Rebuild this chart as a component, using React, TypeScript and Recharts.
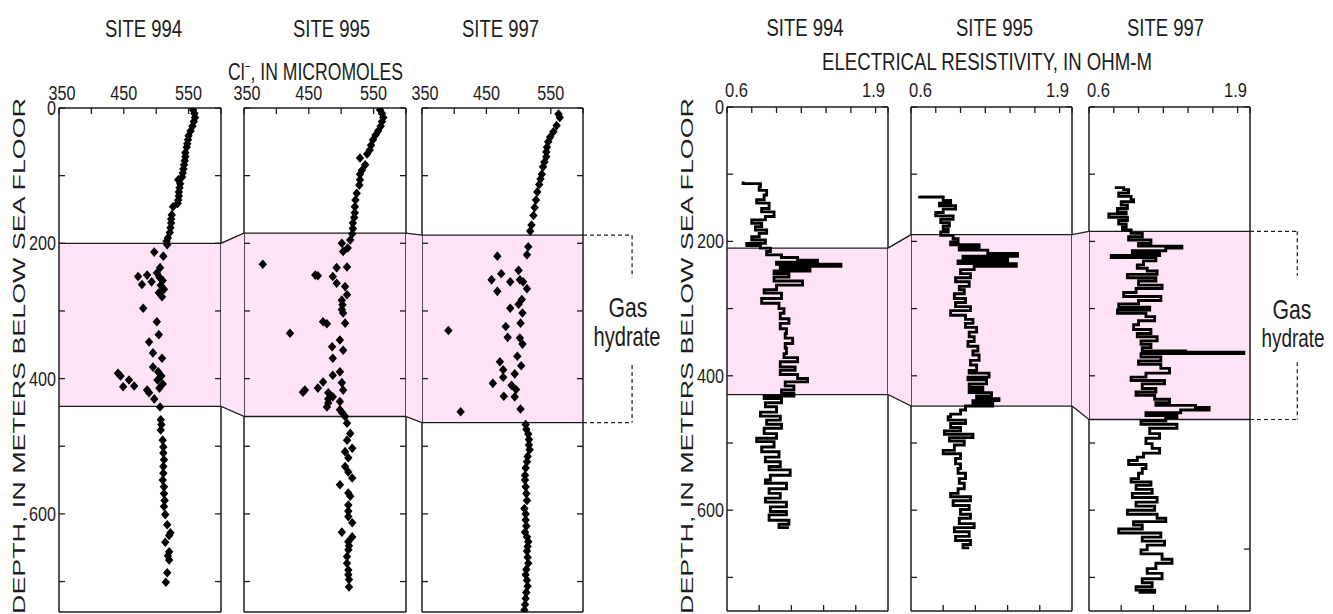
import React from 'react';
import {
  ScatterChart, Scatter, LineChart, Line, AreaChart, Area, ComposedChart,
  XAxis, YAxis, ReferenceArea, ReferenceLine,
} from 'recharts';

const FONT = '"Liberation Sans", Arial, Helvetica, sans-serif';
const INK = '#1c1c1c';
const PINK = '#fde3f5';

// ---- data -------------------------------------------------------------
const siteNames = ['SITE 994', 'SITE 995', 'SITE 997'];

const clDomain = [350, 600];
const clTicksTop = [350, 400, 450, 500, 550, 600];
const clTicksBottom = [400, 450, 500, 550];
const clLabels = [350, 450, 550];

const resDomain = [0.6, 1.9];
const resTicksTop = [0.6, 0.8, 1.0, 1.2, 1.4, 1.6, 1.8, 1.9];
const resTicksBottom = [0.86, 1.12, 1.38, 1.64];

const depthTicks = [0, 100, 200, 300, 400, 500, 600, 700];
const depthLabels = [0, 200, 400, 600];

// gas hydrate zone [top, bottom] in metres, per site
const clBands: [number, number][] = [[200, 441], [185, 456], [188, 465]];
const resBands: [number, number][] = [[210, 428], [190, 445], [185, 465]];
// where the dashed bracket breaks for the label
const bracketGap: [number, number] = [251, 380];

// chloride [value µM, depth m]
const cl994: [number, number][] = [
  [557, 3], [559, 8], [560, 14], [558, 20], [556, 27], [553, 34], [550, 41], [549, 47],
  [548, 53], [547, 58], [545, 66], [545, 72], [544, 78], [543, 84], [542, 90], [541, 96],
  [540, 102], [534, 106], [537, 112], [536, 118], [535, 124], [535, 130], [534, 136], [533, 141],
  [526, 146], [524, 158], [523, 164], [523, 170], [522, 177], [521, 184], [518, 192], [516, 197],
  [517, 202],
  [497, 213], [511, 219], [506, 236], [501, 244], [486, 247], [472, 249], [505, 250], [510, 255],
  [493, 257], [478, 261], [507, 262], [512, 268], [504, 273], [509, 279], [480, 296], [501, 316],
  [504, 335], [489, 346], [495, 362], [509, 370], [495, 383], [503, 390], [441, 392], [445, 396],
  [508, 396], [458, 402], [502, 402], [510, 408], [466, 411], [449, 412], [505, 414], [486, 417],
  [489, 421], [497, 430], [506, 442],
  [507, 461], [508, 468], [507, 476], [510, 491], [511, 501], [511, 510], [512, 520], [511, 530],
  [511, 540], [510, 550], [512, 560], [512, 570], [513, 580], [512, 589], [514, 601], [517, 616],
  [522, 628], [520, 632], [514, 642], [520, 656], [518, 662], [520, 668], [517, 687], [515, 701],
];

const cl995: [number, number][] = [
  [560, 3], [563, 8], [565, 14], [563, 20], [561, 27], [557, 34], [553, 40], [549, 47],
  [546, 55], [544, 62], [540, 68], [529, 74], [537, 84], [532, 92], [529, 98], [529, 106],
  [528, 114], [524, 126], [522, 136], [521, 146], [521, 155], [520, 162], [518, 170], [518, 178],
  [517, 186], [514, 195], [501, 200], [510, 207], [503, 212],
  [379, 231], [509, 235], [493, 236], [460, 247], [464, 248], [487, 249], [493, 259], [506, 264],
  [509, 276], [501, 284], [502, 291], [501, 298], [503, 303], [472, 316], [506, 318], [478, 319],
  [421, 333], [498, 343], [486, 353], [503, 358], [487, 370], [498, 390], [487, 395], [472, 405],
  [501, 406], [464, 414], [444, 417], [503, 417], [441, 420], [480, 421], [487, 427], [480, 430],
  [498, 434], [480, 436], [478, 442], [498, 446], [502, 451], [506, 456],
  [509, 466], [514, 481], [509, 491], [517, 503], [506, 508], [511, 517], [506, 530], [511, 538],
  [517, 547], [498, 557], [511, 569], [514, 574], [511, 587], [511, 596], [511, 604], [517, 613],
  [501, 627], [517, 634], [511, 641], [512, 647], [511, 653], [509, 663], [509, 673], [511, 683],
  [511, 690], [512, 697], [512, 708],
];

const cl997: [number, number][] = [
  [562, 9], [564, 14], [559, 26], [554, 35], [549, 43], [546, 50], [544, 58], [543, 65],
  [543, 72], [540, 80], [538, 87], [536, 98], [534, 105], [532, 113], [529, 124], [527, 136],
  [525, 147], [523, 159], [520, 173], [518, 182],
  [515, 205], [513, 217], [467, 219], [500, 240], [473, 245], [458, 254], [502, 254], [487, 257],
  [507, 257], [513, 267], [467, 271], [505, 283], [500, 290], [487, 296], [506, 303], [503, 318],
  [480, 323], [391, 329], [483, 339], [502, 340], [506, 349], [498, 367], [471, 375], [504, 381],
  [476, 387], [494, 393], [476, 398], [460, 407], [489, 410], [496, 416], [477, 426], [494, 427],
  [503, 445], [410, 449],
  [511, 468], [512, 475], [515, 482], [516, 490], [516, 498], [517, 505], [514, 515], [513, 523],
  [511, 532], [510, 543], [510, 550], [511, 560], [512, 570], [513, 580], [509, 592], [511, 600],
  [511, 609], [512, 618], [510, 627], [513, 634], [515, 641], [514, 648], [513, 655], [514, 664],
  [515, 673], [512, 682], [511, 690], [513, 698], [514, 707], [512, 716], [511, 725], [510, 734],
  [509, 742],
];

// resistivity logs [depth m, ohm-m]
const res994: [number, number][] = [
  [111, 0.73], [114, 0.87], [119, 0.86], [124, 0.92], [131, 0.90], [138, 0.84], [143, 0.94], [151, 0.88],
  [156, 0.98], [163, 0.91], [168, 0.80], [173, 0.88], [178, 0.83], [183, 0.92], [188, 0.86], [193, 0.80],
  [198, 0.91], [203, 0.76], [206, 0.87], [210, 0.95], [215, 0.92], [220, 1.04], [224, 1.17], [228, 1.33],
  [231, 1.00], [234, 1.52], [237, 1.03], [240, 1.27], [244, 0.98], [248, 1.10], [253, 0.98], [259, 1.21],
  [265, 1.00], [272, 0.90], [277, 1.04], [285, 0.88], [292, 1.02], [300, 1.06], [307, 1.03], [315, 1.10],
  [322, 1.03], [330, 1.08], [337, 1.07], [344, 1.13], [352, 1.07], [359, 1.08], [367, 1.06], [373, 1.17],
  [379, 1.03], [387, 1.15], [392, 1.03], [398, 1.17], [404, 1.25], [409, 1.07], [415, 1.14], [421, 1.04],
  [426, 1.14], [430, 0.90], [434, 1.04], [440, 0.91], [446, 1.00], [454, 0.87], [460, 1.03], [466, 0.92],
  [472, 1.04], [478, 0.90], [486, 1.00], [493, 0.84], [498, 0.98], [506, 0.88], [513, 1.02], [521, 0.91],
  [528, 1.03], [535, 0.94], [540, 1.11], [548, 0.95], [555, 0.91], [560, 1.08], [568, 0.94], [575, 1.03],
  [582, 0.91], [588, 1.08], [595, 0.95], [602, 1.08], [607, 0.94], [615, 1.10], [621, 1.02], [626, 1.10],
];

const res995: [number, number][] = [
  [132, 0.67], [134, 0.86], [139, 0.92], [143, 0.83], [147, 0.96], [152, 0.86], [157, 0.80], [162, 0.94],
  [167, 0.84], [172, 0.91], [177, 0.86], [182, 0.90], [186, 0.84], [191, 0.94], [196, 0.98], [201, 0.92],
  [205, 1.15], [209, 0.99], [213, 1.22], [218, 1.46], [222, 1.02], [225, 1.38], [229, 0.98], [233, 1.45],
  [237, 1.11], [242, 1.00], [248, 1.08], [254, 0.96], [260, 1.07], [267, 0.99], [272, 1.03], [278, 0.95],
  [285, 1.04], [291, 0.96], [297, 1.08], [303, 0.92], [310, 1.04], [316, 1.10], [322, 1.04], [328, 1.13],
  [335, 1.07], [342, 1.11], [349, 1.06], [356, 1.14], [363, 1.10], [369, 1.15], [377, 1.08], [384, 1.13],
  [392, 1.07], [396, 1.23], [402, 1.06], [406, 1.21], [412, 1.07], [417, 1.18], [421, 1.07], [425, 1.25],
  [430, 1.13], [434, 1.31], [437, 1.10], [441, 1.26], [445, 1.04], [451, 1.00], [457, 0.92], [461, 0.90],
  [466, 1.04], [471, 0.92], [477, 1.00], [482, 0.87], [487, 1.10], [492, 0.91], [497, 1.03], [503, 0.95],
  [511, 0.86], [516, 1.00], [523, 0.96], [531, 1.00], [538, 0.98], [545, 1.04], [553, 0.99], [560, 1.03],
  [568, 0.98], [575, 0.92], [580, 1.08], [586, 0.94], [593, 1.07], [599, 1.00], [606, 1.08], [612, 0.99],
  [620, 1.11], [626, 0.95], [632, 1.07], [639, 0.96], [645, 1.08], [651, 1.02], [656, 1.07],
];

const res997: [number, number][] = [
  [118, 0.82], [120, 0.88], [123, 0.92], [128, 0.84], [133, 0.94], [138, 0.96], [141, 0.86], [146, 0.91],
  [151, 0.83], [156, 0.90], [159, 0.76], [164, 0.91], [169, 0.84], [174, 0.90], [179, 0.87], [183, 0.94],
  [188, 1.03], [193, 0.92], [198, 1.10], [203, 1.00], [207, 1.35], [210, 1.22], [214, 0.95], [218, 1.17],
  [221, 0.78], [224, 1.14], [229, 1.04], [235, 0.99], [240, 1.07], [244, 1.15], [249, 0.91], [254, 1.14],
  [259, 1.00], [265, 1.19], [270, 0.98], [276, 0.88], [282, 1.18], [288, 1.00], [293, 0.84], [298, 1.09],
  [302, 0.83], [307, 1.06], [312, 1.13], [318, 1.00], [324, 0.96], [331, 1.10], [337, 0.99], [342, 1.15],
  [348, 1.02], [353, 1.10], [358, 1.03], [363, 1.38], [365, 1.85], [367, 1.02], [372, 1.18], [378, 1.00],
  [383, 1.18], [389, 1.25], [396, 1.06], [402, 0.94], [407, 1.21], [412, 1.03], [419, 1.14], [424, 0.98],
  [429, 1.13], [435, 1.25], [440, 1.14], [444, 1.46], [447, 1.57], [451, 1.34], [455, 1.06], [459, 1.31],
  [462, 1.22], [467, 1.02], [472, 1.31], [478, 1.09], [486, 1.17], [493, 1.06], [501, 1.11], [508, 1.17],
  [515, 1.04], [521, 0.99], [526, 0.92], [532, 1.06], [538, 1.03], [545, 1.00], [553, 0.94], [558, 1.10],
  [563, 0.98], [569, 1.11], [575, 0.95], [581, 1.15], [588, 0.98], [594, 1.13], [600, 0.91], [606, 1.15],
  [612, 1.22], [617, 0.96], [622, 1.03], [628, 0.84], [634, 1.18], [640, 1.03], [646, 1.21], [652, 1.07],
  [659, 1.02], [665, 1.19], [673, 1.27], [679, 1.14], [687, 1.07], [694, 1.19], [702, 1.03], [708, 1.11],
  [714, 0.98], [719, 1.13], [722, 1.00],
];

// ---- layout -----------------------------------------------------------
const clBoxes = [{ x0: 59, x1: 221 }, { x0: 244, x1: 406 }, { x0: 422, x1: 583 }];
const resBoxes = [{ x0: 727, x1: 888 }, { x0: 911, x1: 1072 }, { x0: 1089, x1: 1250 }];
const GROUP = {
  cl: { top: 108, bottom: 612, maxDepth: 745, boxes: clBoxes, bands: clBands },
  res: { top: 107, bottom: 611, maxDepth: 750, boxes: resBoxes, bands: resBands },
};
const AXIS = { stroke: INK, strokeWidth: 1.5 };
const TICK_LEN = 6;

type Lab = { text: string; anchor: 'start' | 'middle' | 'end'; dx: number; len: number } | null;

const clLabel = (v: number): Lab =>
  clLabels.includes(v) ? { text: String(v), anchor: 'middle', dx: v === 350 ? 3 : 0, len: 27 } : null;
const resLabel = (v: number): Lab =>
  v === 0.6 ? { text: '0.6', anchor: 'start', dx: -2, len: 23 }
    : v === 1.9 ? { text: '1.9', anchor: 'end', dx: -3, len: 23 } : null;
const depthLabel = (v: number): Lab =>
  depthLabels.includes(v) ? { text: String(v), anchor: 'end', dx: -3, len: v === 0 ? 9 : 27 } : null;

function makeTick(side: string, label?: (v: number) => Lab, lift = 9) {
  return (props: any) => {
    const { x, y, payload } = props;
    let x2 = x, y2 = y;
    if (side === 'top') y2 = y + TICK_LEN;
    if (side === 'bottom') y2 = y - TICK_LEN;
    if (side === 'left') x2 = x + TICK_LEN;
    if (side === 'right') x2 = x - TICK_LEN;
    const lab = label ? label(payload.value) : null;
    const vertical = side === 'left' || side === 'right';
    return (
      <g>
        <line x1={x} y1={y} x2={x2} y2={y2} stroke={INK} strokeWidth={1.3} />
        {lab && (
          <text
            x={x + lab.dx}
            y={vertical ? y + 7 : y - lift}
            textAnchor={lab.anchor}
            fontFamily={FONT}
            fontSize={19.5}
            fill={INK}
            textLength={lab.len}
            lengthAdjust="spacingAndGlyphs"
          >
            {lab.text}
          </text>
        )}
      </g>
    );
  };
}

const Diamond = (p: any) => {
  const { cx, cy } = p;
  if (cx == null || cy == null) return null;
  return <path d={`M${cx},${cy - 4.8}L${cx + 4.2},${cy}L${cx},${cy + 4.8}L${cx - 4.2},${cy}Z`} fill="#000" />;
};

function Panel({ kind, idx, data, showDepth }: any) {
  const g = (GROUP as any)[kind];
  const isCl = kind === 'cl';
  const box = g.boxes[idx];
  const band = g.bands[idx];
  const ML = 45, MT = 35, MR = 5, MB = 2;
  const width = box.x1 - box.x0 + ML + MR;
  const height = g.bottom - g.top + MT + MB;
  const rows = isCl
    ? data.map(([v, d]: number[]) => ({ v, d }))
    : data.map(([d, v]: number[]) => ({ v, d }));
  const xDomain = isCl ? clDomain : resDomain;
  // vertical layout already runs the y axis downwards
  const flip = isCl;
  const kids = [
    <XAxis key="xt" xAxisId="t" orientation="top" type="number" dataKey="v" domain={xDomain}
      ticks={isCl ? clTicksTop : resTicksTop} interval={0} allowDataOverflow height={MT}
      tickSize={0} tickMargin={0} axisLine={AXIS} tickLine={false}
      tick={makeTick('top', isCl ? clLabel : resLabel, isCl ? 8 : 10)} />,
    <XAxis key="xb" xAxisId="b" orientation="bottom" type="number" domain={xDomain}
      ticks={isCl ? clTicksBottom : resTicksBottom} interval={0} allowDataOverflow height={MB}
      tickSize={0} tickMargin={0} axisLine={AXIS} tickLine={false} tick={makeTick('bottom')} />,
    <YAxis key="yl" yAxisId="l" orientation="left" type="number" dataKey="d" domain={[0, g.maxDepth]}
      reversed={flip} ticks={depthTicks} interval={0} allowDataOverflow width={ML}
      tickSize={0} tickMargin={0} axisLine={AXIS} tickLine={false}
      tick={makeTick('left', showDepth ? depthLabel : undefined)} />,
    <YAxis key="yr" yAxisId="r" orientation="right" type="number" domain={[0, g.maxDepth]}
      reversed={flip} ticks={depthTicks} interval={0} allowDataOverflow width={MR}
      tickSize={0} tickMargin={0} axisLine={AXIS} tickLine={false} tick={makeTick('right')} />,
    <ReferenceArea key="band" xAxisId="t" yAxisId="l" y1={band[0]} y2={band[1]}
      fill={PINK} fillOpacity={1} stroke="none" />,
    <ReferenceLine key="bt" xAxisId="t" yAxisId="l" y={band[0]} stroke={INK} strokeWidth={1.3} />,
    <ReferenceLine key="bb" xAxisId="t" yAxisId="l" y={band[1]} stroke={INK} strokeWidth={1.3} />,
    isCl ? (
      <Scatter key="s" xAxisId="t" yAxisId="l" data={rows} shape={Diamond} isAnimationActive={false} />
    ) : (
      <Line key="ln" xAxisId="t" yAxisId="l" dataKey="v" type="stepBefore" stroke="#000"
        strokeWidth={2.9} dot={false} activeDot={false} isAnimationActive={false} />
    ),
  ];
  const margin = { top: 0, right: 0, bottom: 0, left: 0 };
  return (
    <div style={{ position: 'absolute', left: box.x0 - ML, top: g.top - MT }}>
      {isCl ? (
        <ScatterChart width={width} height={height} margin={margin}>{kids}</ScatterChart>
      ) : (
        <LineChart width={width} height={height} margin={margin} layout="vertical" data={rows}>{kids}</LineChart>
      )}
    </div>
  );
}

function Connector({ kind, idx }: any) {
  const g = (GROUP as any)[kind];
  const left = g.boxes[idx].x1;
  const right = g.boxes[idx + 1].x0;
  const data = [{ x: 0, band: g.bands[idx] }, { x: 1, band: g.bands[idx + 1] }];
  return (
    <div style={{ position: 'absolute', left, top: g.top }}>
      <AreaChart width={right - left} height={g.bottom - g.top} data={data}
        margin={{ top: 0, right: 0, bottom: 0, left: 0 }}>
        <XAxis type="number" dataKey="x" domain={[0, 1]} hide allowDataOverflow />
        <YAxis type="number" domain={[0, g.maxDepth]} reversed hide allowDataOverflow />
        <Area type="linear" dataKey="band" fill={PINK} fillOpacity={1} stroke={INK}
          strokeWidth={1.3} dot={false} activeDot={false} isAnimationActive={false} />
      </AreaChart>
    </div>
  );
}

function Bracket({ kind, reach }: any) {
  const g = (GROUP as any)[kind];
  const left = g.boxes[2].x1;
  const band = g.bands[2];
  const dash = { stroke: INK, strokeWidth: 1.2, strokeDasharray: '4 3' };
  return (
    <div style={{ position: 'absolute', left, top: g.top }}>
      <ComposedChart width={Math.round(reach * 1.1)} height={g.bottom - g.top}
        data={[{ x: 0 }, { x: 1 }]} margin={{ top: 0, right: 0, bottom: 0, left: 0 }}>
        <XAxis type="number" dataKey="x" domain={[0, 1.1]} hide allowDataOverflow />
        <YAxis type="number" domain={[0, g.maxDepth]} reversed hide allowDataOverflow />
        <ReferenceLine segment={[{ x: 0, y: band[0] }, { x: 1, y: band[0] }]} {...dash} />
        <ReferenceLine segment={[{ x: 0, y: band[1] }, { x: 1, y: band[1] }]} {...dash} />
        <ReferenceLine segment={[{ x: 1, y: band[0] }, { x: 1, y: bracketGap[0] }]} {...dash} />
        <ReferenceLine segment={[{ x: 1, y: bracketGap[1] }, { x: 1, y: band[1] }]} {...dash} />
      </ComposedChart>
    </div>
  );
}

const txt = { fontFamily: FONT, fill: INK, lengthAdjust: 'spacingAndGlyphs' as const };

export default function App() {
  return (
    <div style={{ position: 'absolute', left: 0, top: 0, width: 1333, height: 614, background: '#fff', overflow: 'hidden' }}>
      <Panel kind="cl" idx={0} data={cl994} showDepth />
      <Panel kind="cl" idx={1} data={cl995} />
      <Panel kind="cl" idx={2} data={cl997} />
      <Connector kind="cl" idx={0} />
      <Connector kind="cl" idx={1} />
      <Bracket kind="cl" reach={49} />

      <Panel kind="res" idx={0} data={res994} showDepth />
      <Panel kind="res" idx={1} data={res995} />
      <Panel kind="res" idx={2} data={res997} />
      <Connector kind="res" idx={0} />
      <Connector kind="res" idx={1} />
      <Bracket kind="res" reach={47} />

      <svg width={1333} height={614} style={{ position: 'absolute', left: 0, top: 0, pointerEvents: 'none' }}>
        {[143.5, 331.5, 500.5].map((x, i) => (
          <text key={'ct' + i} x={x} y={37} textAnchor="middle" fontSize={24} textLength={77} {...txt}>{siteNames[i]}</text>
        ))}
        {[805, 994.5, 1165.5].map((x, i) => (
          <text key={'rt' + i} x={x} y={36} textAnchor="middle" fontSize={24} textLength={77} {...txt}>{siteNames[i]}</text>
        ))}
        <text x={315.5} y={80} textAnchor="middle" fontSize={24} textLength={175} {...txt}>
          Cl<tspan dy={-9} fontSize={14}>−</tspan><tspan dy={9}>, IN MICROMOLES</tspan>
        </text>
        <text x={987} y={70} textAnchor="middle" fontSize={24} textLength={330} {...txt}>
          ELECTRICAL RESISTIVITY, IN OHM-M
        </text>
        <text transform="translate(25,356) rotate(-90)" textAnchor="middle" fontSize={17} textLength={516} {...txt}>
          DEPTH, IN METERS BELOW SEA FLOOR
        </text>
        <text transform="translate(693,356) rotate(-90)" textAnchor="middle" fontSize={17} textLength={516} {...txt}>
          DEPTH, IN METERS BELOW SEA FLOOR
        </text>
        <text x={628} y={317} textAnchor="middle" fontSize={28} textLength={39} {...txt}>Gas</text>
        <text x={627} y={346} textAnchor="middle" fontSize={28} textLength={67} {...txt}>hydrate</text>
        <text x={1292} y={319} textAnchor="middle" fontSize={28} textLength={39} {...txt}>Gas</text>
        <text x={1293} y={347} textAnchor="middle" fontSize={26} textLength={63} {...txt}>hydrate</text>
      </svg>
    </div>
  );
}
